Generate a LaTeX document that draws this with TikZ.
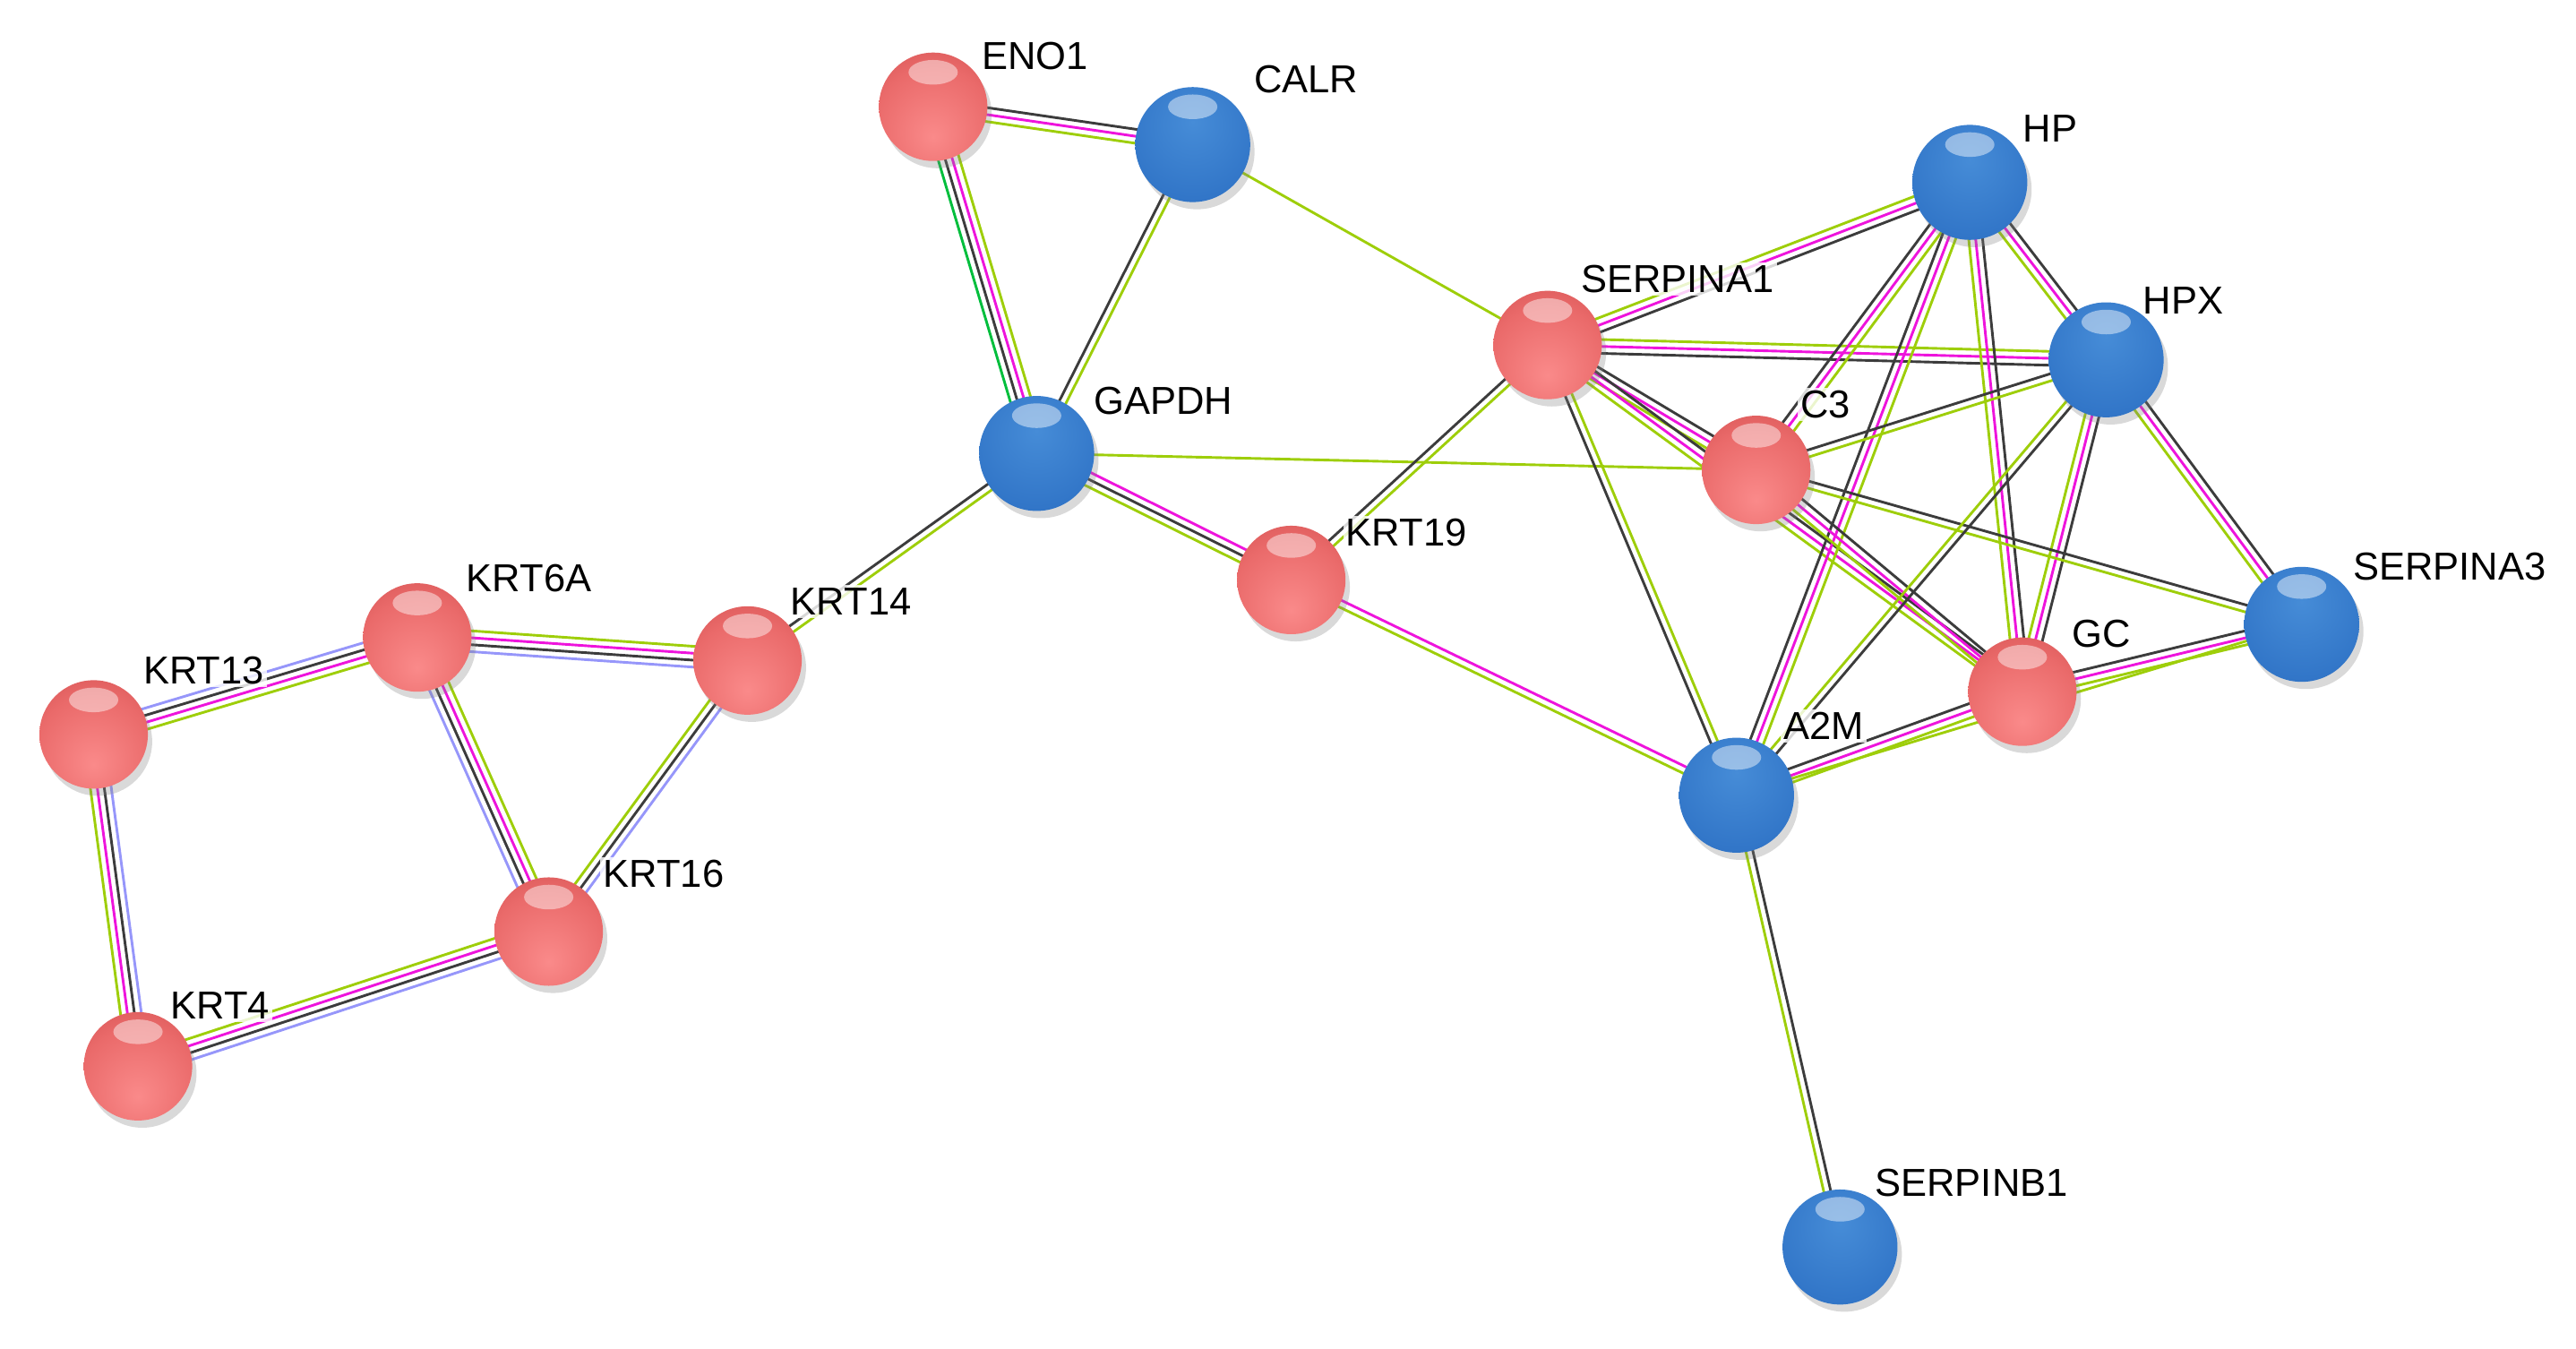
\documentclass[tikz,border=0pt]{standalone}
\usepackage{fontspec}
\setmainfont{Liberation Sans}
\usepackage{tikz}
\usetikzlibrary{calc,shadows}

\definecolor{clime}{RGB}{158,206,10}
\definecolor{cmag}{RGB}{238,20,220}
\definecolor{cblack}{RGB}{60,60,60}
\definecolor{clav}{RGB}{150,150,250}
\definecolor{cgreen}{RGB}{0,190,60}

\pgfdeclareradialshading{redsphere}{\pgfpoint{0bp}{-14bp}}{%
  color(0bp)=(rgb,255:red,250;green,138;blue,138);
  color(28bp)=(rgb,255:red,234;green,106;blue,106);
  color(46bp)=(rgb,255:red,210;green,80;blue,80);
  color(58bp)=(rgb,255:red,175;green,40;blue,40);
  color(100bp)=(rgb,255:red,160;green,25;blue,25)}
\pgfdeclareradialshading{bluesphere}{\pgfpoint{0bp}{10bp}}{%
  color(0bp)=(rgb,255:red,70;green,140;blue,215);
  color(30bp)=(rgb,255:red,50;green,118;blue,200);
  color(50bp)=(rgb,255:red,38;green,100;blue,180);
  color(60bp)=(rgb,255:red,30;green,78;blue,150);
  color(100bp)=(rgb,255:red,30;green,78;blue,150)}

\pgfdeclarelayer{edges}
\pgfsetlayers{edges,main}

% one evidence line per colour, side by side
\newcommand{\ppilink}[3]{%
  \foreach \wcol [count=\n] in {#3} {\xdef\nwires{\n}}%
  \foreach \wcol [count=\i] in {#3} {%
    \pgfmathsetmacro{\off}{((\nwires+1)/2-\i)*2.4}%
    \draw[wire, draw=\wcol] ($(#1.center)!\off pt!90:(#2.center)$) -- ($(#2.center)!\off pt!-90:(#1.center)$);
  }%
}

\begin{document}
\begin{tikzpicture}[x=0.02cm, y=-0.02cm,
    wire/.style={line width=0.9pt},
    ball/.style={circle, inner sep=0pt, minimum size=1.32cm,
        drop shadow={opacity=0.3, shadow xshift=1.5pt, shadow yshift=-2.5pt},
        path picture={\fill[white, opacity=0.45]
            ($(path picture bounding box.north)+(0,-0.24cm)$) ellipse (0.3cm and 0.15cm);}},
    redball/.style={ball, shading=redsphere},
    blueball/.style={ball, minimum size=1.4cm, shading=bluesphere},
    lbl/.style={font=\fontsize{13.5}{16}\selectfont, fill=white, fill opacity=0.8, text opacity=1, inner sep=1pt}
]
    \useasboundingbox (0,0) rectangle (1568,821);

    % labels
    \node[lbl] (eno1-l) at (630,34) {ENO1};
    \node[lbl] (calr-l) at (795,48) {CALR};
    \node[lbl] (gapdh-l) at (708,244) {GAPDH};
    \node[lbl] (serpina1-l) at (1021,170) {SERPINA1};
    \node[lbl] (krt19-l) at (856,324) {KRT19};
    \node[lbl] (c3-l) at (1111,246) {C3};
    \node[lbl] (hp-l) at (1248,78) {HP};
    \node[lbl] (hpx-l) at (1329,183) {HPX};
    \node[lbl] (serpina3-l) at (1491,345) {SERPINA3};
    \node[lbl] (gc-l) at (1279,386) {GC};
    \node[lbl] (a2m-l) at (1110,442) {A2M};
    \node[lbl] (serpinb1-l) at (1200,720) {SERPINB1};
    \node[lbl] (krt14-l) at (518,366) {KRT14};
    \node[lbl] (krt6a-l) at (322,352) {KRT6A};
    \node[lbl] (krt13-l) at (124,408) {KRT13};
    \node[lbl] (krt16-l) at (404,532) {KRT16};
    \node[lbl] (krt4-l) at (134,612) {KRT4};

    % proteins
    \node[redball] (eno1) at (568,65) {};
    \node[blueball] (calr) at (726,88) {};
    \node[blueball] (gapdh) at (631,276) {};
    \node[redball] (serpina1) at (942,210) {};
    \node[redball] (krt19) at (786,353) {};
    \node[redball] (c3) at (1069,286) {};
    \node[blueball] (hp) at (1199,111) {};
    \node[blueball] (hpx) at (1282,219) {};
    \node[blueball] (serpina3) at (1401,380) {};
    \node[redball] (gc) at (1231,421) {};
    \node[blueball] (a2m) at (1057,484) {};
    \node[blueball] (serpinb1) at (1120,759) {};
    \node[redball] (krt14) at (455,402) {};
    \node[redball] (krt6a) at (254,388) {};
    \node[redball] (krt13) at (57,447) {};
    \node[redball] (krt16) at (334,567) {};
    \node[redball] (krt4) at (84,649) {};

    % interactions
    \begin{pgfonlayer}{edges}
    \ppilink{eno1}{calr}{cblack,cmag,clime}
    \ppilink{eno1}{gapdh}{clime,cmag,cblack,cgreen}
    \ppilink{calr}{gapdh}{clime,cblack}
    \ppilink{calr}{serpina1}{clime}
    \ppilink{gapdh}{c3}{clime}
    \ppilink{gapdh}{krt19}{cmag,cblack,clime}
    \ppilink{krt14}{gapdh}{cblack,clime}
    \ppilink{krt19}{a2m}{cmag,clime}
    \ppilink{krt19}{serpina1}{cblack,clime}
    \ppilink{serpina1}{hp}{clime,cmag,cblack}
    \ppilink{serpina1}{hpx}{clime,cmag,cblack}
    \ppilink{serpina1}{c3}{cblack,cmag,clime}
    \ppilink{serpina1}{gc}{cblack,cmag,clime}
    \ppilink{serpina1}{a2m}{clime,cblack}
    \ppilink{hp}{c3}{clime,cmag,cblack}
    \ppilink{hp}{a2m}{clime,cmag,cblack}
    \ppilink{hp}{gc}{cblack,cmag,clime}
    \ppilink{hp}{hpx}{cblack,cmag,clime}
    \ppilink{hpx}{gc}{cblack,cmag,clime}
    \ppilink{hpx}{serpina3}{cblack,cmag,clime}
    \ppilink{c3}{hpx}{cblack,clime}
    \ppilink{c3}{serpina3}{cblack,clime}
    \ppilink{c3}{gc}{cblack,cmag,clime}
    \ppilink{a2m}{hpx}{clime,cblack}
    \ppilink{a2m}{gc}{cblack,cmag,clime}
    \ppilink{a2m}{serpina3}{clime}
    \ppilink{gc}{serpina3}{cblack,cmag,clime}
    \ppilink{a2m}{serpinb1}{cblack,clime}
    \ppilink{krt13}{krt6a}{clav,cblack,cmag,clime}
    \ppilink{krt6a}{krt14}{clime,cmag,cblack,clav}
    \ppilink{krt6a}{krt16}{clime,cmag,cblack,clav}
    \ppilink{krt14}{krt16}{clav,cblack,clime}
    \ppilink{krt13}{krt4}{clav,cblack,cmag,clime}
    \ppilink{krt4}{krt16}{clime,cmag,cblack,clav}
    \end{pgfonlayer}
\end{tikzpicture}
\end{document}
